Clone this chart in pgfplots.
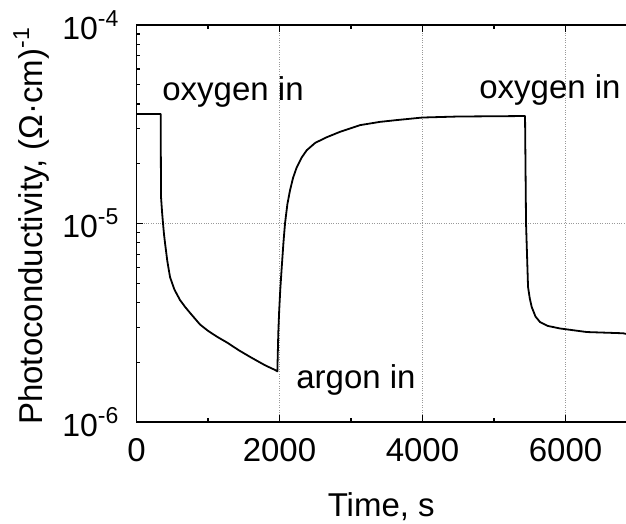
\documentclass[border=0pt]{standalone}
\usepackage{fontspec}
\setmainfont{Liberation Sans}
\usepackage{pgfplots}
\pgfplotsset{compat=1.18}
\usetikzlibrary{calc}
\newcommand{\sups}[1]{\raisebox{0.42em}{\fontsize{23}{23}\selectfont #1}}
\begin{document}
\begin{tikzpicture}
\begin{axis}[
  scale only axis,
  width=489.5pt, height=397pt,
  ymode=log,
  xmin=0, xmax=6846,
  ymin=1e-6, ymax=1e-4,
  axis x line*=box, axis y line*=left,
  axis line style={-, line width=1.4pt},
  xtick={0,2000,4000,6000},
  minor xtick={1000,3000,5000},
  ytick={1e-6,1e-5,1e-4},
  yticklabels={10\sups{-6},10\sups{-5},10\sups{-4}},
  minor ytick={2e-6,3e-6,4e-6,5e-6,6e-6,7e-6,8e-6,9e-6,2e-5,3e-5,4e-5,5e-5,6e-5,7e-5,8e-5,9e-5},
  /pgf/number format/assume math mode=true,
  /pgf/number format/1000 sep={},
  tick align=inside,
  major tick length=7pt, minor tick length=4pt,
  every tick/.style={black, line width=1.2pt},
  tick label style={font=\fontsize{32}{38}\selectfont, inner sep=0pt},
  yticklabel style={xshift=-18pt},
  xticklabel style={yshift=-16pt, font=\fontsize{33}{38}\selectfont},
  xmajorgrids, ymajorgrids,
  major grid style={dotted, gray!80, line width=0.6pt},
  clip=true,
]
\addplot[black, line width=1.8pt, line join=round] coordinates {
(0,3.56e-5) (338,3.56e-5) (343,1.36e-5) (357,1.15e-5) (371,1.0e-5) (385,8.8e-6)
(399,7.98e-6) (430,6.5e-6) (469,5.37e-6) (530,4.65e-6) (608,4.12e-6)
(680,3.8e-6) (748,3.55e-6) (888,3.1e-6) (1000,2.88e-6) (1126,2.69e-6)
(1270,2.51e-6) (1430,2.30e-6) (1587,2.13e-6) (1690,2.03e-6) (1800,1.93e-6)
(1937,1.83e-6) (1970,1.80e-6) (1983,2.8e-6) (1995,3.6e-6) (2010,4.6e-6)
(2031,6.0e-6) (2055,8.0e-6) (2077,1.0e-5) (2110,1.25e-5)
(2147,1.47e-5) (2190,1.70e-5) (2241,1.92e-5) (2310,2.15e-5) (2381,2.34e-5)
(2500,2.55e-5) (2660,2.72e-5) (2850,2.90e-5) (3126,3.13e-5) (3400,3.25e-5)
(3639,3.32e-5) (4000,3.42e-5) (4500,3.46e-5) (5000,3.47e-5) (5434,3.48e-5)
(5448,1.0e-5) (5476,4.79e-6) (5500,4.2e-6) (5527,3.80e-6) (5580,3.4e-6)
(5643,3.19e-6) (5750,3.05e-6) (5923,2.96e-6)
(6297,2.84e-6) (6804,2.80e-6) (6846,2.78e-6)
};
\node[anchor=base, font=\fontsize{33}{38}\selectfont] at (axis cs:1350,4.19e-5) {oxygen in};
\node[anchor=base, font=\fontsize{33}{38}\selectfont] at (axis cs:5783,4.28e-5) {oxygen in};
\node[anchor=base, font=\fontsize{33}{38}\selectfont] at (axis cs:3070,1.48e-6) {argon in};
\coordinate (sw) at (rel axis cs:0,0);
\coordinate (ne) at (rel axis cs:1,1);
\coordinate (nw) at (rel axis cs:0,1);
\coordinate (se) at (rel axis cs:1,0);
\end{axis}
\node[rotate=90, anchor=base, inner sep=0pt, font=\fontsize{33}{38}\selectfont] at ($(sw)!0.5!(nw)+(-93.5pt,-3pt)$) {Photoconductivity, (Ω·cm)\sups{-1}};
\node[anchor=base, inner sep=0pt, font=\fontsize{33}{38}\selectfont] at ($(sw)!0.5!(se)+(0,-94pt)$) {Time, s};
\pgfresetboundingbox
\path ($(sw)+(-136.5pt,-101pt)$) rectangle ($(ne)+(0,25pt)$);
\end{tikzpicture}
\end{document}
